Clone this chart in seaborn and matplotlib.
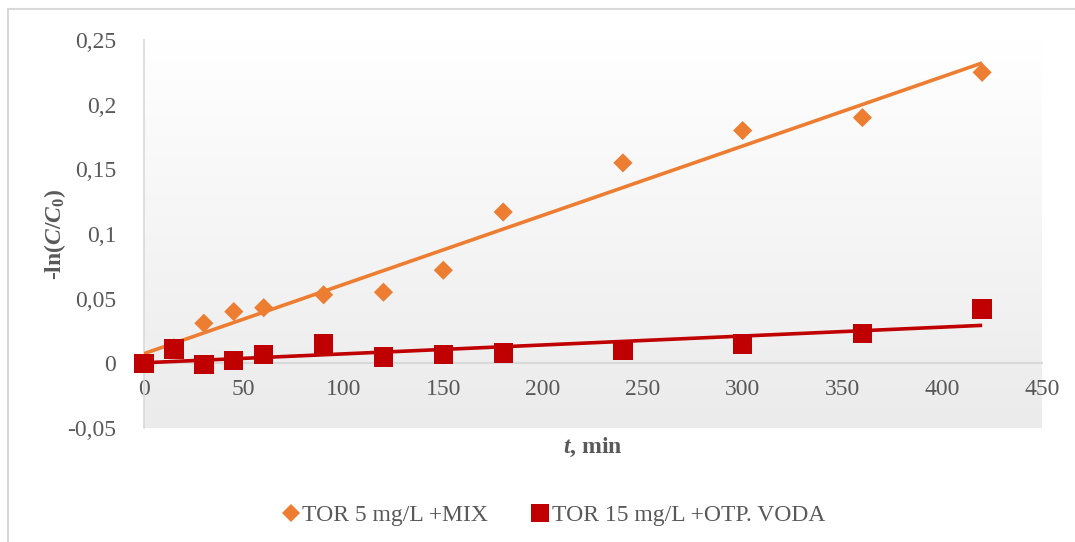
import numpy as np
import pandas as pd
import matplotlib
matplotlib.use("Agg")
import matplotlib.pyplot as plt
from matplotlib.lines import Line2D
from matplotlib.patches import Rectangle
from matplotlib.ticker import FuncFormatter
import seaborn as sns

# ---- data ----
time_min = [0, 15, 30, 45, 60, 90, 120, 150, 180, 240, 300, 360, 420]
tor5_mix = [0.000, 0.012, 0.031, 0.040, 0.043, 0.053, 0.055, 0.072, 0.117, 0.155, 0.180, 0.190, 0.225]
tor15_otp = [0.000, 0.011, -0.001, 0.002, 0.007, 0.015, 0.005, 0.007, 0.008, 0.010, 0.015, 0.023, 0.042]
series_names = ["TOR 5 mg/L +MIX", "TOR 15 mg/L +OTP. VODA"]
x_ticks = [0, 50, 100, 150, 200, 250, 300, 350, 400, 450]
y_ticks = [-0.05, 0, 0.05, 0.1, 0.15, 0.2, 0.25]

ORANGE = "#ED7D31"
RED = "#C00000"
TXT = "#595959"
GRID = "#D9D9D9"

sns.set_theme(style="white")
plt.rcParams["font.family"] = ["Liberation Serif", "DejaVu Serif"]
plt.rcParams["mathtext.fontset"] = "custom"
plt.rcParams["mathtext.rm"] = "Liberation Serif:bold"
plt.rcParams["mathtext.bf"] = "Liberation Serif:bold"
plt.rcParams["mathtext.it"] = "Liberation Serif:italic:bold"

W, H = 1075, 542
fig = plt.figure(figsize=(W / 100, H / 100), dpi=100)
fig.patch.set_facecolor("white")
ax = fig.add_axes([144 / W, 1 - 428 / H, (1042 - 144) / W, (428 - 40) / H])

# chart border (partially cropped)
fig.patches.append(Rectangle((8 / W, -0.05), 1.2, 1 - 9 / H + 0.05, transform=fig.transFigure,
                             fill=False, edgecolor=GRID, linewidth=1.5, zorder=0))

# gradient background
grad = np.linspace(1.0, 0.0, 256).reshape(-1, 1)
top = np.array([1.0, 1.0, 1.0])
bot = np.array([0xEB, 0xEB, 0xEB]) / 255
img = bot[None, None, :] * (1 - grad[:, :, None]) + top[None, None, :] * grad[:, :, None]
ax.imshow(img, extent=[0, 1, 0, 1], transform=ax.transAxes, aspect="auto", zorder=0)

df = pd.DataFrame({"t": time_min, "a": tor5_mix, "b": tor15_otp})

# trend lines
sns.regplot(data=df, x="t", y="a", scatter=False, ci=None, truncate=True, ax=ax,
            line_kws=dict(color=ORANGE, lw=2.6, zorder=3, solid_capstyle="butt"))
sns.regplot(data=df, x="t", y="b", scatter=False, ci=None, truncate=True, ax=ax,
            line_kws=dict(color=RED, lw=2.6, zorder=3, solid_capstyle="butt"))

# markers
sns.scatterplot(data=df, x="t", y="a", marker="D", s=95, color=ORANGE, edgecolor="none",
                ax=ax, zorder=4, legend=False)
sns.scatterplot(data=df, x="t", y="b", marker="s", s=195, color=RED, edgecolor="none",
                ax=ax, zorder=5, legend=False)
for c in ax.collections:
    c.set_clip_on(False)

ax.set_xlim(0, 450)
ax.set_ylim(-0.05, 0.25)
ax.set_xticks(x_ticks)
ax.set_yticks(y_ticks)


def comma_fmt(v, pos):
    s = ("%.2f" % v).rstrip("0").rstrip(".")
    if s == "-0":
        s = "0"
    return s.replace(".", ",")


ax.yaxis.set_major_formatter(FuncFormatter(comma_fmt))
ax.xaxis.set_major_formatter(FuncFormatter(lambda v, p: "%d" % v))

for sp in ["top", "right"]:
    ax.spines[sp].set_visible(False)
ax.spines["left"].set_color(GRID)
ax.spines["left"].set_linewidth(1.2)
ax.spines["bottom"].set_position(("data", 0))
ax.spines["bottom"].set_color(GRID)
ax.spines["bottom"].set_linewidth(1.5)
ax.spines["bottom"].set_zorder(2)

ax.tick_params(axis="both", length=0, labelsize=17, labelcolor=TXT)
ax.tick_params(axis="y", pad=20)
ax.tick_params(axis="x", pad=11)
ax.set_xlabel("")
ax.set_ylabel("")

ax.text(0.5, -0.05, r"$\mathit{t}$, min", transform=ax.transAxes, fontweight="bold",
        ha="center", va="center", fontsize=17, color=TXT)
ax.text(-0.099, 0.5, r"-ln($\mathit{C}$/$\mathit{C}_{\mathbf{0}}$)", fontweight="bold",
        transform=ax.transAxes, rotation=90, ha="center", va="center", fontsize=17, color=TXT)

handles = [
    Line2D([], [], marker="D", linestyle="none", color=ORANGE, markersize=9.5, markeredgewidth=0),
    Line2D([], [], marker="s", linestyle="none", color=RED, markersize=13, markeredgewidth=0),
]
fig.legend(handles, series_names, loc="center", bbox_to_anchor=(552 / W, 1 - 515 / H), ncol=2,
           frameon=False, fontsize=17, labelcolor=TXT, handletextpad=0.0, columnspacing=1.7,
           handlelength=1.0)

fig.savefig("out.png", dpi=100, facecolor="white")
